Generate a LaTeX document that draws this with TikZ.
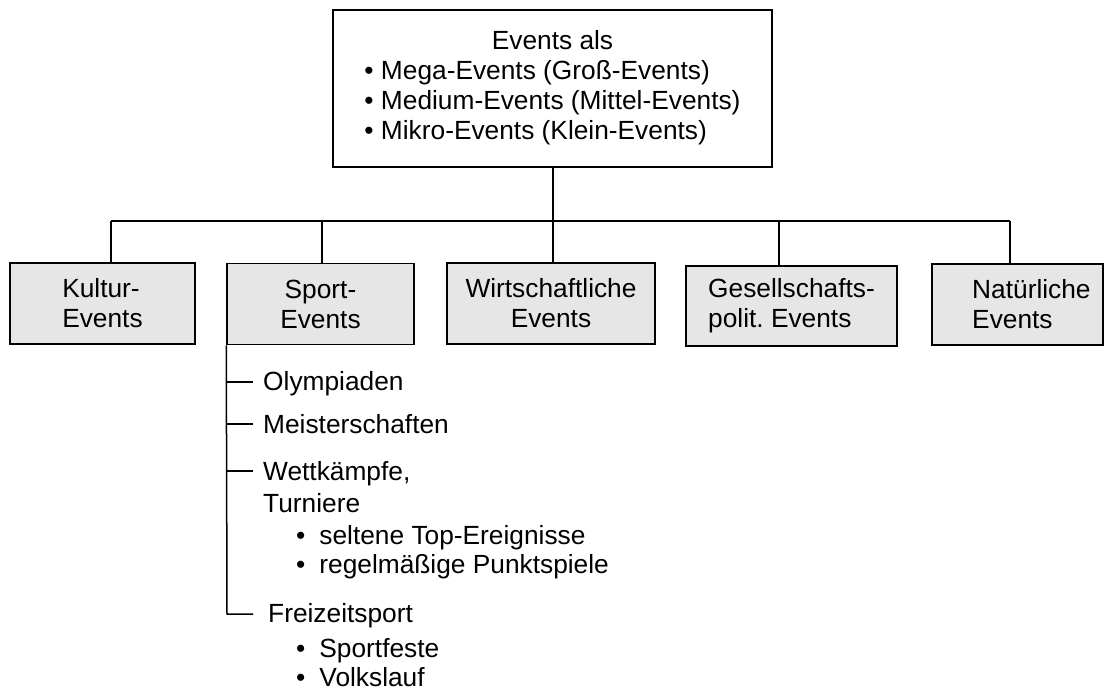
\documentclass[tikz,border=0pt]{standalone}
\usepackage{fontspec}
\setmainfont{Liberation Sans}
\definecolor{boxgray}{RGB}{230,230,230}
\begin{document}
\begin{tikzpicture}[x=1pt,y=-1pt,
  every node/.style={font=\fontsize{26.3}{30}\selectfont, inner sep=0pt},
  line/.style={line width=1.5pt, black},
  topbox/.style={draw, line width=1.5pt, fill=white, minimum width=439pt, minimum height=157pt},
  catbox/.style={draw, line width=1.5pt, fill=boxgray, minimum height=81pt},
  listtext/.style={anchor=base west}
]
\useasboundingbox (0,0) rectangle (1105,690);

% top box
\node[topbox] (top) at (552.5,88.5) {\begin{tabular}{@{}l@{}}\multicolumn{1}{@{}c@{}}{Events als}\\
•~Mega-Events (Groß-Events)\\
•~Medium-Events (Mittel-Events)\\
•~Mikro-Events (Klein-Events)\end{tabular}};

% category boxes
\node[catbox, minimum width=185pt, align=left] (kul) at (102.5,303.5) {Kultur-\\Events};
\node[catbox, minimum width=187pt, align=center] (spo) at (320.5,304) {Sport-\\Events};
\node[catbox, minimum width=208pt, align=center] (wir) at (551,303.5) {Wirtschaftliche\\Events};
\node[catbox, minimum width=211pt, minimum height=80pt, align=left] (ges) at (791.5,306) {Gesellschafts-\\polit.\ Events};
\node[catbox, minimum width=171pt] (nat) at (1017.5,304.5) {};
\node[anchor=west, align=left] (natt) at (972,304.5) {Natürliche\\Events};

% bus
\coordinate (bk) at (111,221);
\coordinate (bs) at (322,221);
\coordinate (bw) at (553,221);
\coordinate (bg) at (779,221);
\coordinate (bn) at (1010,221);
\draw[line] (bk) -- (bn);
\draw[line] (top.south -| bw) -- (bw |- wir.north);
\draw[line] (bk) -- (bk |- kul.north);
\draw[line] (bs) -- (bs |- spo.north);
\draw[line] (bg) -- (bg |- ges.north);
\draw[line] (bn) -- (bn |- nat.north);

% sport list
\node[listtext] (oly) at (263,390) {Olympiaden};
\node[listtext] (mei) at (263,433) {Meisterschaften};
\node[listtext] (wet) at (263,480) {Wettkämpfe,};
\node[listtext] (tur) at (263,512) {Turniere};
\node[listtext] (sel) at (296,544) {•\kern14pt seltene Top-Ereignisse};
\node[listtext] (reg) at (296,573) {•\kern14pt regelmäßige Punktspiele};
\node[listtext] (fre) at (268,622) {Freizeitsport};
\node[listtext] (spf) at (296,657) {•\kern14pt Sportfeste};
\node[listtext] (vol) at (296,686) {•\kern14pt Volkslauf};

\coordinate (t1) at (227,382);
\coordinate (t2) at (227,424);
\coordinate (t3) at (227,471);
\coordinate (t4) at (227,614);
\draw[line] (spo.south west) -- (t4) -- ++(26,0);
\draw[line] (t1) -- ++(26,0);
\draw[line] (t2) -- ++(26,0);
\draw[line] (t3) -- ++(26,0);
\end{tikzpicture}
\end{document}
